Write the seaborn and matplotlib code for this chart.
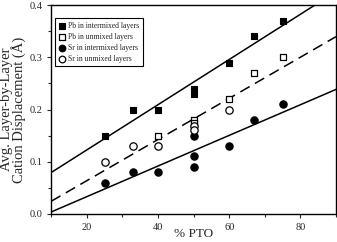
import numpy as np
import pandas as pd
import matplotlib
matplotlib.use("Agg")
import matplotlib.pyplot as plt
import seaborn as sns
from matplotlib.ticker import MultipleLocator

# values
pb_mix_x = [25, 33, 40, 50, 50, 60, 67, 75]
pb_mix_y = [0.15, 0.20, 0.20, 0.23, 0.24, 0.29, 0.34, 0.37]
pb_unmix_x = [40, 50, 50, 60, 67, 75]
pb_unmix_y = [0.15, 0.18, 0.175, 0.22, 0.27, 0.30]
sr_mix_x = [25, 33, 40, 50, 50, 50, 60, 67, 75]
sr_mix_y = [0.06, 0.08, 0.08, 0.15, 0.11, 0.09, 0.13, 0.18, 0.21]
sr_unmix_x = [25, 33, 40, 50, 50, 60]
sr_unmix_y = [0.10, 0.13, 0.13, 0.168, 0.16, 0.20]

sns.set_style("ticks")
plt.rcParams["font.family"] = ["Liberation Serif", "DejaVu Serif"]

fig = plt.figure(figsize=(3.37, 2.42), dpi=100)
ax = fig.add_axes([0.152, 0.116, 0.845, 0.863])
ax.set_xlim(10, 90)
ax.set_ylim(0, 0.4)

unmix_x = pb_unmix_x + sr_unmix_x
unmix_y = pb_unmix_y + sr_unmix_y

# fitted lines (drawn across the full x range)
sns.regplot(x=pb_mix_x, y=pb_mix_y, ax=ax, scatter=False, ci=None, truncate=False,
            line_kws=dict(color="black", lw=1.1))
sns.regplot(x=unmix_x, y=unmix_y, ax=ax, scatter=False, ci=None, truncate=False,
            line_kws=dict(color="black", lw=1.1, ls=(0, (7, 4))))
sns.regplot(x=sr_mix_x, y=sr_mix_y, ax=ax, scatter=False, ci=None, truncate=False,
            line_kws=dict(color="black", lw=1.1))

ms = 20
sns.scatterplot(x=pb_mix_x, y=pb_mix_y, ax=ax, marker="s", s=ms, color="black",
                edgecolor="black", linewidth=0.8, label="Pb in intermixed layers", zorder=3)
sns.scatterplot(x=pb_unmix_x, y=pb_unmix_y, ax=ax, marker="s", s=ms, color="white",
                edgecolor="black", linewidth=0.9, label="Pb in unmixed layers", zorder=3)
sns.scatterplot(x=sr_mix_x, y=sr_mix_y, ax=ax, marker="o", s=ms + 8, color="black",
                edgecolor="black", linewidth=0.8, label="Sr in intermixed layers", zorder=3)
sns.scatterplot(x=sr_unmix_x, y=sr_unmix_y, ax=ax, marker="o", s=ms + 8, color="white",
                edgecolor="black", linewidth=0.9, label="Sr in unmixed layers", zorder=3)

ax.xaxis.set_major_locator(MultipleLocator(20))
ax.xaxis.set_minor_locator(MultipleLocator(10))
ax.yaxis.set_major_locator(MultipleLocator(0.1))
ax.yaxis.set_minor_locator(MultipleLocator(0.05))
ax.yaxis.set_major_formatter(matplotlib.ticker.FormatStrFormatter("%.1f"))
ax.tick_params(which="major", length=3, width=0.8, labelsize=7.5, direction="out")
ax.tick_params(which="minor", length=2, width=0.8, direction="out")
for sp in ax.spines.values():
    sp.set_visible(True)
    sp.set_linewidth(1.0)
    sp.set_color("black")

ax.set_xlabel("% PTO", fontsize=9.5, labelpad=-2.5)
ax.set_ylabel("Avg. Layer-by-Layer\nCation Displacement (Å)", fontsize=10.5,
              linespacing=0.85, labelpad=2)

leg = ax.legend(loc="upper left", bbox_to_anchor=(0.0, 0.955), fontsize=5.5,
                frameon=True, fancybox=False, edgecolor="black", framealpha=1,
                handletextpad=0.3, borderpad=0.45, labelspacing=0.4,
                handlelength=1.0, markerscale=0.9)
leg.get_frame().set_linewidth(0.8)

fig.savefig("out.png", dpi=100)
